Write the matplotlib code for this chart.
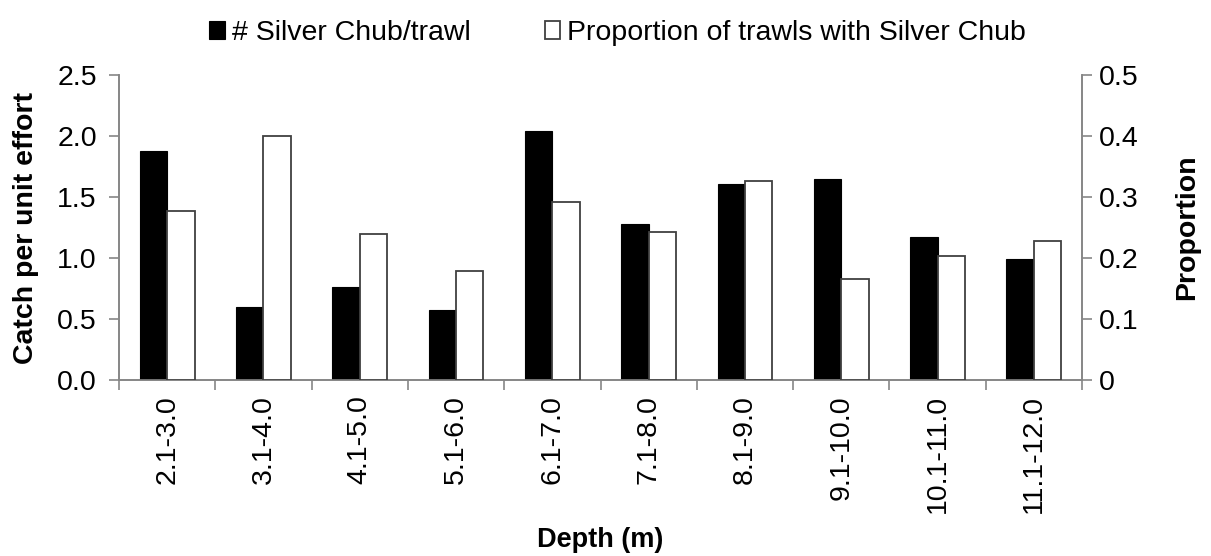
import numpy as np
import matplotlib.pyplot as plt

plt.rcParams['font.family'] = ['Liberation Sans', 'DejaVu Sans']

depths = ["2.1-3.0", "3.1-4.0", "4.1-5.0", "5.1-6.0", "6.1-7.0",
          "7.1-8.0", "8.1-9.0", "9.1-10.0", "10.1-11.0", "11.1-12.0"]
cpue = [1.88, 0.60, 0.76, 0.57, 2.04, 1.28, 1.61, 1.645, 1.17, 0.99]
prop_trawls = [0.277, 0.40, 0.24, 0.178, 0.291, 0.243, 0.327, 0.166, 0.203, 0.228]

axis_grey = "#868686"
x = np.arange(len(depths))
w = 0.285

fig = plt.figure(figsize=(12.11, 5.56), dpi=100)
ax = fig.add_axes([119 / 1211, 1 - 380 / 556, (1082 - 119) / 1211, 305 / 556])
ax2 = ax.twinx()

b1 = ax.bar(x - w / 2, cpue, w, color="black", edgecolor="black", linewidth=0.8,
            label="# Silver Chub/trawl", zorder=3)
b2 = ax2.bar(x + w / 2, prop_trawls, w, color="white", edgecolor="#404040", linewidth=1.3,
             label="Proportion of trawls with Silver Chub", zorder=3)

ax.set_xlim(-0.5, len(depths) - 0.5)
ax.set_ylim(0, 2.5)
ax2.set_ylim(0, 0.5)
ax.set_yticks(np.arange(0, 2.51, 0.5))
ax.set_yticklabels([f"{v:.1f}" for v in np.arange(0, 2.51, 0.5)])
ax2.set_yticks(np.arange(0, 0.51, 0.1))
ax2.set_yticklabels(["0", "0.1", "0.2", "0.3", "0.4", "0.5"])

ax.set_xticks(x)
ax.set_xticklabels(depths, rotation=90)
ax.set_xticks(np.arange(-0.5, len(depths), 1), minor=True)
ax.tick_params(axis="x", which="major", length=0, pad=11, labelsize=20.5)
ax.tick_params(axis="x", which="minor", length=7, width=1.2, color=axis_grey)
ax.tick_params(axis="y", length=7, width=1.2, color=axis_grey, labelsize=20.5, pad=9)
ax2.tick_params(axis="y", length=7, width=1.2, color=axis_grey, labelsize=20.5, pad=5)

for a in (ax, ax2):
    a.spines["top"].set_visible(False)
    for s in ("left", "right", "bottom"):
        a.spines[s].set_color(axis_grey)
        a.spines[s].set_linewidth(1.2)

ax.set_ylabel("Catch per unit effort", fontsize=20.5, fontweight="bold", labelpad=13)
ax2.set_ylabel("Proportion", fontsize=20.5, fontweight="bold", labelpad=26)
ax.set_xlabel("Depth (m)", fontsize=19.5, fontweight="bold", labelpad=10)

fig.legend(handles=[b1, b2], loc="upper center", bbox_to_anchor=(0.51, 1.01), ncol=2,
           frameon=False, fontsize=20.5, handlelength=0.55, handleheight=0.55,
           handletextpad=0.25, columnspacing=2.6)

fig.savefig("out.png", dpi=100)
